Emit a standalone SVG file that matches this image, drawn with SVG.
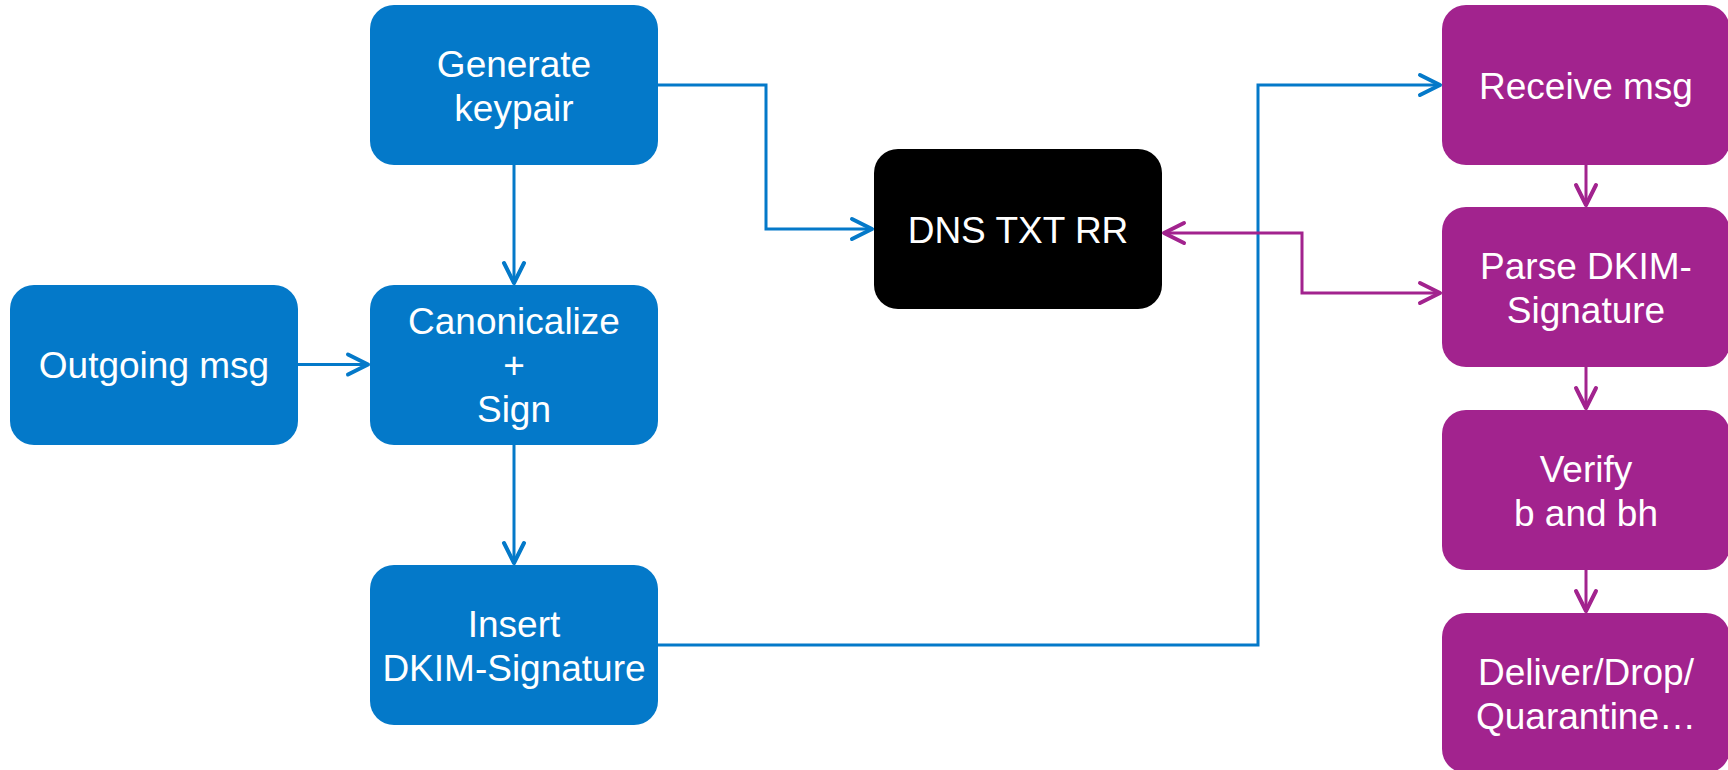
<svg xmlns="http://www.w3.org/2000/svg" width="1728" height="770" viewBox="0 0 1728 770">
<style>
.b{fill:#0479C9}
.p{fill:#A2238E}
.k{fill:#000000}
text{font-family:"Liberation Sans",Arial,sans-serif;font-size:37px;fill:#ffffff;text-anchor:middle}
.cb{fill:none;stroke:#0479C9;stroke-width:3}
.cp{fill:none;stroke:#A2238E;stroke-width:3}
</style>
<defs>
<marker id="ab" markerUnits="userSpaceOnUse" viewBox="-24 -14 28 28" markerWidth="28" markerHeight="28" refX="0" refY="0" orient="auto-start-reverse">
<path d="M-20,-10 L0,0 L-20,10" fill="none" stroke="#0479C9" stroke-width="4" stroke-linecap="round" stroke-linejoin="round"/>
</marker>
<marker id="ap" markerUnits="userSpaceOnUse" viewBox="-24 -14 28 28" markerWidth="28" markerHeight="28" refX="0" refY="0" orient="auto-start-reverse">
<path d="M-20,-10 L0,0 L-20,10" fill="none" stroke="#A2238E" stroke-width="4" stroke-linecap="round" stroke-linejoin="round"/>
</marker>
</defs>
<rect width="1728" height="770" fill="#ffffff"/>
<g id="connectors">
<path class="cb" d="M658,85 H766 V229 H872" marker-end="url(#ab)"/>
<path class="cb" d="M514,164 V283" marker-end="url(#ab)"/>
<path class="cb" d="M298,364.5 H368" marker-end="url(#ab)"/>
<path class="cb" d="M514,444 V563" marker-end="url(#ab)"/>
<path class="cb" d="M658,645 H1258 V85 H1440" marker-end="url(#ab)"/>
<path class="cp" d="M1164,233 H1302 V293 H1440" marker-start="url(#ap)" marker-end="url(#ap)"/>
<path class="cp" d="M1586,165 V205" marker-end="url(#ap)"/>
<path class="cp" d="M1586,367 V408" marker-end="url(#ap)"/>
<path class="cp" d="M1586,570 V611" marker-end="url(#ap)"/>
</g>
<g id="generate">
<rect class="b" x="370" y="5" width="288" height="160" rx="24"/>
<text x="514" y="77">Generate</text>
<text x="514" y="121">keypair</text>
</g>
<g id="outgoing">
<rect class="b" x="10" y="285" width="288" height="160" rx="24"/>
<text x="154" y="378">Outgoing msg</text>
</g>
<g id="canonicalize">
<rect class="b" x="370" y="285" width="288" height="160" rx="24"/>
<text x="514" y="334">Canonicalize</text>
<text x="514" y="378">+</text>
<text x="514" y="422">Sign</text>
</g>
<g id="insert">
<rect class="b" x="370" y="565" width="288" height="160" rx="24"/>
<text x="514" y="637">Insert</text>
<text x="514" y="681">DKIM-Signature</text>
</g>
<g id="dns">
<rect class="k" x="874" y="149" width="288" height="160" rx="24"/>
<text x="1018" y="243">DNS TXT RR</text>
</g>
<g id="receive">
<rect class="p" x="1442" y="5" width="288" height="160" rx="24"/>
<text x="1586" y="99">Receive msg</text>
</g>
<g id="parse">
<rect class="p" x="1442" y="207" width="288" height="160" rx="24"/>
<text x="1586" y="279">Parse DKIM-</text>
<text x="1586" y="323">Signature</text>
</g>
<g id="verify">
<rect class="p" x="1442" y="410" width="288" height="160" rx="24"/>
<text x="1586" y="482">Verify</text>
<text x="1586" y="526">b and bh</text>
</g>
<g id="deliver">
<rect class="p" x="1442" y="613" width="288" height="160" rx="24"/>
<text x="1586" y="685">Deliver/Drop/</text>
<text x="1586" y="729">Quarantine…</text>
</g>
</svg>
